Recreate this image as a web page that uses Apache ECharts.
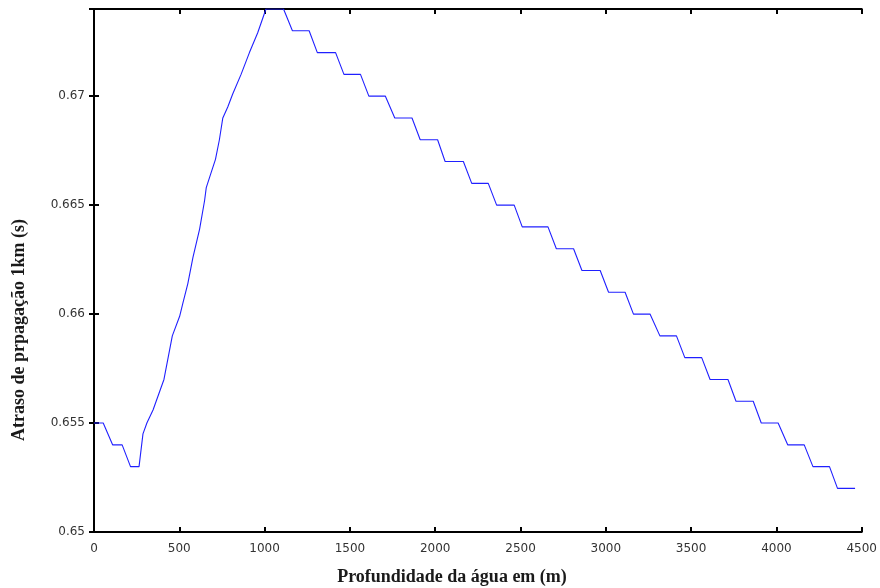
<!DOCTYPE html>
<html>
<head>
<meta charset="utf-8">
<script src="https://cdn.jsdelivr.net/npm/echarts@6/dist/echarts.min.js"></script>
<style>html,body{margin:0;padding:0;background:#fff}#c{width:880px;height:588px}</style>
</head>
<body>
<div id="c"></div>
<script>
const depth = [0,54,109,165,214,264,287,310,346,410,459,502,521,550,580,619,648,658,687,712,735,755,784,813,862,911,959,1008,1111,1163,1261,1309,1416,1465,1562,1611,1708,1763,1864,1912,2014,2058,2165,2214,2311,2360,2463,2510,2661,2710,2811,2860,2967,3016,3113,3162,3259,3317,3414,3463,3562,3611,3716,3763,3864,3911,4010,4066,4163,4214,4311,4358,4461];
const delay = [0.655,0.655,0.654,0.654,0.653,0.653,0.6545,0.655,0.6556,0.657,0.659,0.6599,0.6605,0.6614,0.6626,0.6639,0.6652,0.6658,0.6665,0.6671,0.668,0.669,0.6695,0.6701,0.671,0.672,0.6729,0.674,0.674,0.673,0.673,0.672,0.672,0.671,0.671,0.670,0.670,0.669,0.669,0.668,0.668,0.667,0.667,0.666,0.666,0.665,0.665,0.664,0.664,0.663,0.663,0.662,0.662,0.661,0.661,0.660,0.660,0.659,0.659,0.658,0.658,0.657,0.657,0.656,0.656,0.655,0.655,0.654,0.654,0.653,0.653,0.652,0.652];
const xTitle = 'Profundidade da água em (m)';
const yTitle = 'Atraso de prpagação 1km (s)';

const chart = echarts.init(document.getElementById('c'), null, {renderer: 'canvas'});
const axLine = {show: true, lineStyle: {color: '#000', width: 2}};
const tick = {show: true, inside: true, length: 5, lineStyle: {color: '#000', width: 2}};
const lblFont = {fontFamily: 'DejaVu Sans', fontSize: 12, color: '#333'};
const yFmt = v => (Math.abs(v - 0.674) < 1e-9 ? '' : String(+v.toFixed(3)));
const xFmt = v => String(Math.round(v));
chart.setOption({
  animation: false,
  backgroundColor: '#fff',
  grid: {left: 94, right: 15, top: 9, bottom: 56, containLabel: false},
  xAxis: [
    {type: 'value', min: 0, max: 4500, interval: 500, position: 'bottom',
     axisLine: axLine, axisTick: tick, splitLine: {show: false},
     axisLabel: Object.assign({margin: 11, formatter: xFmt}, lblFont)},
    {type: 'value', min: 0, max: 4500, interval: 500, position: 'top',
     axisLine: axLine, axisTick: tick, splitLine: {show: false}, axisLabel: {show: false}}
  ],
  yAxis: [
    {type: 'value', min: 0.65, max: 0.674, interval: 0.005, position: 'left',
     axisLine: axLine, axisTick: tick, splitLine: {show: false},
     axisLabel: Object.assign({margin: 9, formatter: yFmt}, lblFont)},
    {type: 'value', min: 0.65, max: 0.674, interval: 0.005, position: 'right',
     axisLine: axLine, axisTick: tick, splitLine: {show: false}, axisLabel: {show: false}}
  ],
  series: [{
    type: 'line', xAxisIndex: 0, yAxisIndex: 0, symbol: 'none',
    lineStyle: {color: '#2020ff', width: 1.1},
    data: depth.map((d, i) => [d, delay[i]])
  }],
  graphic: [
    {type: 'text', x: 452, y: 577,
     style: {text: xTitle, fontFamily: 'Liberation Serif', fontWeight: 'bold', fontSize: 18, fill: '#1a1a1a', textAlign: 'center', textVerticalAlign: 'middle'}},
    {type: 'text', x: 19, y: 330, rotation: Math.PI / 2,
     style: {text: yTitle, fontFamily: 'Liberation Serif', fontWeight: 'bold', fontSize: 18, fill: '#1a1a1a', textAlign: 'center', textVerticalAlign: 'middle'}}
  ]
});
</script>
</body>
</html>
